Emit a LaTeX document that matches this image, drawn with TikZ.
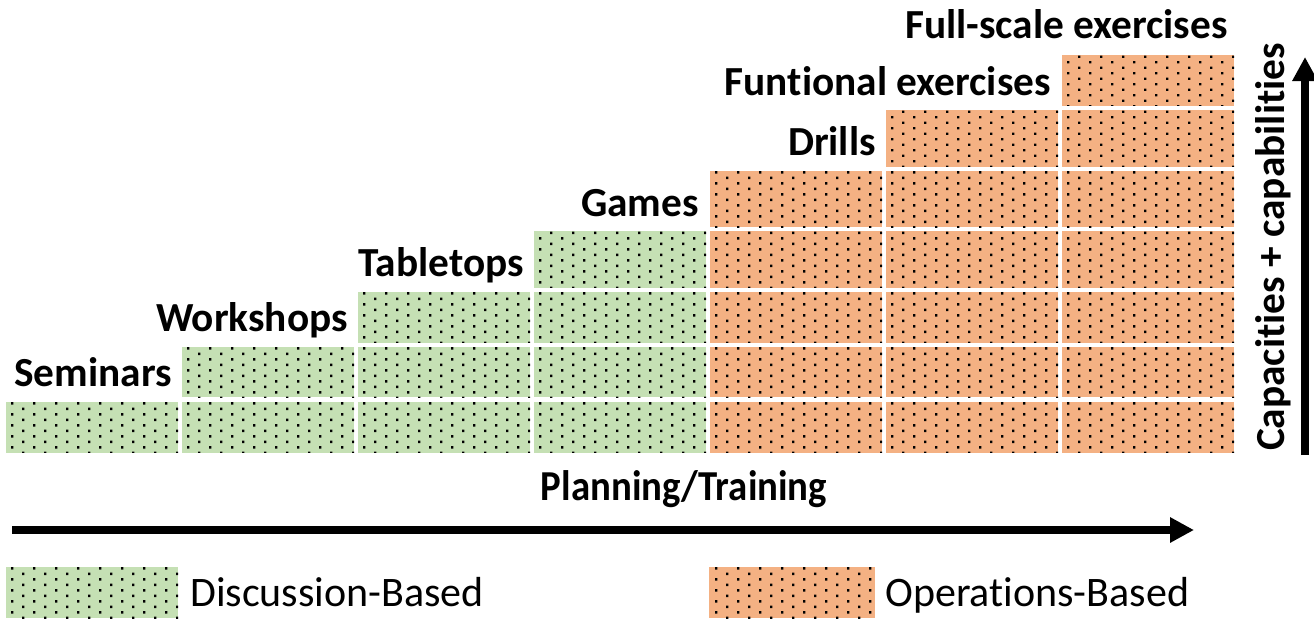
\documentclass[tikz,border=0pt]{standalone}
\usepackage{fontspec}
\setmainfont{Carlito}[Ligatures=NoCommon]
\usetikzlibrary{patterns,arrows.meta}
\pgfdeclarepatternformonly{sparsedots}{\pgfqpoint{-1pt}{-1pt}}{\pgfqpoint{17.5pt}{9.25pt}}{\pgfqpoint{16.5pt}{8.25pt}}{%
  \pgfpathrectangle{\pgfqpoint{0pt}{0pt}}{\pgfqpoint{1.8pt}{1.8pt}}%
  \pgfpathrectangle{\pgfqpoint{8.25pt}{4.125pt}}{\pgfqpoint{1.8pt}{1.8pt}}%
  \pgfusepath{fill}}
\definecolor{dgreen}{HTML}{C5E0B4}
\definecolor{oorange}{HTML}{F4B183}
\tikzset{
  dotfill/.style={postaction={pattern=sparsedots, pattern color=black}},
  lbl/.style={font=\bfseries\fontsize{31}{37}\selectfont, anchor=base east, inner sep=0pt},
  leg/.style={font=\fontsize{31.5}{37}\selectfont, anchor=base west, inner sep=0pt},
  bigarrow/.style={line width=6pt, -{Triangle[length=18pt,width=18pt]}},
}
\begin{document}
\begin{tikzpicture}[x=0.75pt, y=-0.75pt]
\useasboundingbox (0,0) rectangle (1314,619);
\def\tops{{401.7,346.7,291.7,231,170.7,110,55}}
\def\bots{{452.7,397.3,342.7,287.7,227,166.7,105.7}}
\foreach \c/\col in {1/dgreen,2/dgreen,3/dgreen,4/dgreen,5/oorange,6/oorange,7/oorange}{
  \foreach \r in {1,...,\c}{
    \pgfmathsetmacro\xl{6+176*(\c-1)}
    \pgfmathsetmacro\xr{\xl+172}
    \pgfmathsetmacro\yt{\tops[\r-1]}
    \pgfmathsetmacro\yb{\bots[\r-1]}
    \path[fill=\col, dotfill] (\xl,\yt) rectangle (\xr,\yb);
  }
}
\node[lbl] (seminars)   at (172,386.7) {Seminars};
\node[lbl] (workshops)  at (348,331.7) {Workshops};
\node[lbl] (tabletops)  at (524,276.7) {Tabletops};
\node[lbl] (games)      at (699,216)   {Games};
\node[lbl] (drills)     at (876,155.7) {Drills};
\node[lbl] (funtional)  at (1051,95)   {Funtional exercises};
\node[lbl] (fullscale)  at (1228,38)   {Full-scale exercises};

\node[font=\bfseries\fontsize{32}{38}\selectfont, xscale=0.91, anchor=base, inner sep=0pt] (plan) at (684,500) {Planning/Training};
\coordinate (hs) at (12,530);
\coordinate (he) at (1194,530);
\draw[bigarrow] (hs) -- (he);

\node[font=\bfseries\fontsize{31}{37}\selectfont, rotate=90, anchor=base, inner sep=0pt] (cap) at (1284,247) {Capacities + capabilities};
\coordinate (vs) at (1305,455);
\coordinate (ve) at (1305,57);
\draw[bigarrow] (vs) -- (ve);

\path[fill=dgreen, dotfill] (6,567) rectangle (178,618);
\node[leg] (disc) at (190,606) {Discussion-Based};
\path[fill=oorange, dotfill] (709,567) rectangle (875,618);
\node[leg] (oper) at (885,606) {Operations-Based};
\end{tikzpicture}
\end{document}
